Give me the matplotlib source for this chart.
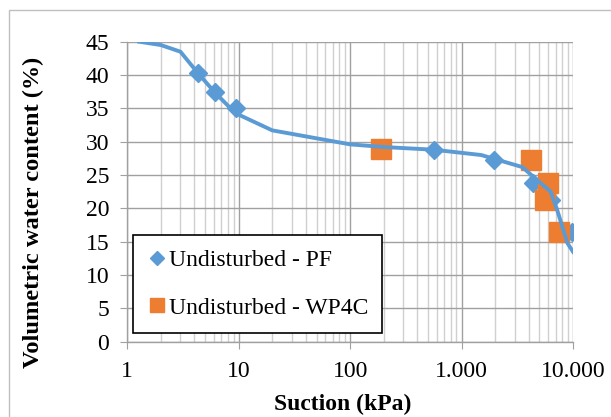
import matplotlib
matplotlib.use('Agg')
import matplotlib.pyplot as plt
from matplotlib.lines import Line2D
from matplotlib.patches import Rectangle
from matplotlib.ticker import FixedLocator, FuncFormatter, LogLocator, NullFormatter

# Curva ajustada (sem legenda)
fit_x = [1.28, 2.0, 3.0, 4.3, 6.1, 9.3, 20, 100, 200, 560, 1500, 3500, 6300, 7200, 8900, 10000]
fit_y = [45.0, 44.5, 43.5, 40.3, 37.4, 34.3, 31.7, 29.6, 29.2, 28.8, 28.0, 26.2, 22.5, 19.8, 14.8, 13.5]

# Pontos medidos - placa de pressao (PF)
pf_x = [4.3, 6.1, 9.5, 560, 1940, 4350, 6300, 9700]
pf_y = [40.3, 37.4, 35.0, 28.8, 27.2, 23.8, 21.2, 16.5]

# Pontos medidos - WP4C
wp_x = [190, 4240, 5940, 5580, 7450]
wp_y = [28.9, 27.2, 23.8, 21.2, 16.5]

labels = ['Undisturbed - PF', 'Undisturbed - WP4C']
blue = '#5B9BD5'
orange = '#ED7D31'

plt.rcParams['font.family'] = ['Liberation Serif', 'DejaVu Serif']

fig = plt.figure(figsize=(6.11, 4.17), dpi=100)
ax = fig.add_axes([0.2083, 0.1806, 0.7295, 0.7194])

ax.plot(pf_x, pf_y, linestyle='none', marker='D', markersize=9, color=blue, zorder=3)
ax.plot(wp_x, wp_y, linestyle='none', marker='s', markersize=14, color=orange, zorder=4)
ax.plot(fit_x, fit_y, color=blue, linewidth=2.8, zorder=5)

ax.set_xscale('log')
ax.set_xlim(1, 10000)
ax.set_ylim(0, 45)
ax.set_yticks(range(0, 46, 5))
ax.xaxis.set_major_locator(FixedLocator([1, 10, 100, 1000, 10000]))
ax.xaxis.set_minor_locator(LogLocator(base=10, subs=range(2, 10)))
ax.xaxis.set_minor_formatter(NullFormatter())
ax.xaxis.set_major_formatter(FuncFormatter(lambda v, p: f'{int(round(v)):,}'.replace(',', '.')))

ax.grid(True, which='major', color='#a0a0a0', linewidth=1)
ax.grid(True, which='minor', axis='x', color='#d0d0d0', linewidth=1)
ax.set_axisbelow(True)

for s in ['top', 'right']:
    ax.spines[s].set_visible(False)
for s in ['left', 'bottom']:
    ax.spines[s].set_color('#a0a0a0')
    ax.spines[s].set_linewidth(1)
ax.tick_params(which='major', length=5, color='#a0a0a0', labelsize=17)
ax.tick_params(axis='y', pad=8)
ax.tick_params(axis='x', pad=9)
ax.tick_params(which='minor', length=0)

handles = [
    Line2D([], [], linestyle='none', marker='D', markersize=7, color=blue),
    Line2D([], [], linestyle='none', marker='s', markersize=10.5, color=orange),
]
leg = ax.legend(handles, labels, loc='lower left', bbox_to_anchor=(0.0135, 0.03),
                borderaxespad=0, fontsize=17, fancybox=False, framealpha=1,
                edgecolor='black', handlelength=0.8, handletextpad=0.1,
                labelspacing=1.1, borderpad=0.6)
leg.get_frame().set_linewidth(1.2)
leg.set_zorder(10)

fig.text(0.0548, 0.4916, 'Volumetric water content (%)', rotation=90,
         ha='center', va='center', fontsize=17.6, fontweight='bold')
fig.text(0.5614, 0.031, 'Suction (kPa)', ha='center', va='center',
         fontsize=17, fontweight='bold')

fig.patches.append(Rectangle((9 / 611, -0.1), 1.0, (417 - 10) / 417 + 0.1,
                             transform=fig.transFigure, fill=False,
                             edgecolor='#bfbfbf', linewidth=1))

fig.savefig('out.png', dpi=100)
